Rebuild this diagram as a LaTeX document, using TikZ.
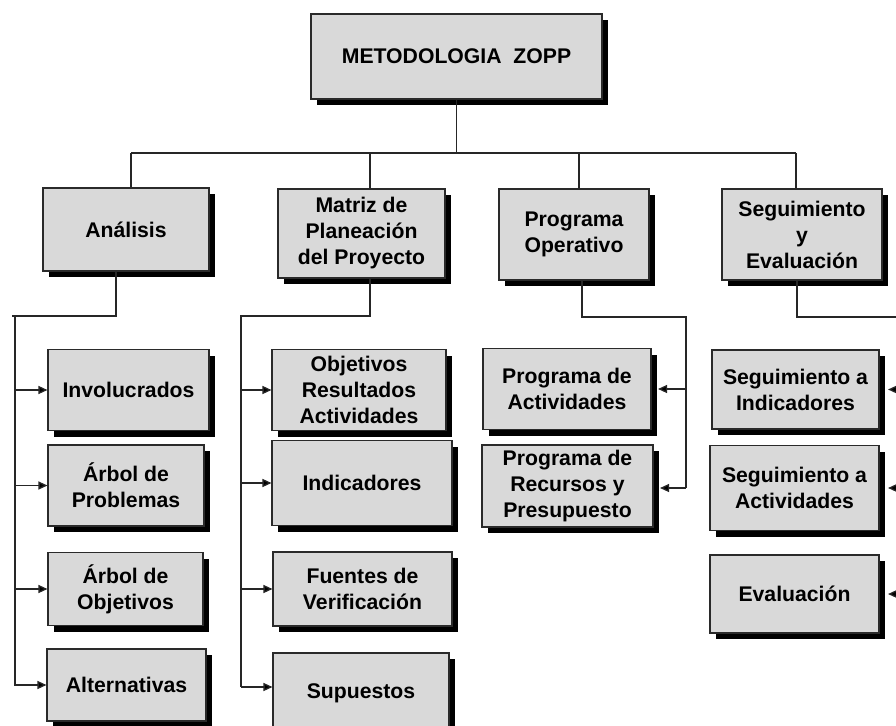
\documentclass[tikz,border=0pt]{standalone}
\usepackage{fontspec}
\setmainfont{Liberation Sans}
\usetikzlibrary{shadows,arrows.meta}
\definecolor{boxfill}{HTML}{D9D9D9}
\definecolor{boxline}{HTML}{2A2A2A}
\tikzset{
  zbox/.style args={#1x#2}{draw=boxline, line width=1.1pt, fill=boxfill,
    minimum width=#1pt, minimum height=#2pt, inner sep=0pt, align=center,
    font=\fontsize{21.2}{26}\selectfont\bfseries,
    drop shadow={shadow xshift=6pt, shadow yshift=-6pt, fill=black, opacity=1}},
  conn/.style={line width=1.3pt, draw=black!85},
  arr/.style={conn, -{Triangle[length=9pt,width=8pt,fill=black]}}
}
\begin{document}
\begin{tikzpicture}[x=1pt,y=-1pt]
\useasboundingbox (0,0) rectangle (896,725);
\clip (0,0) rectangle (896,725);
% top
\node[zbox=291x85] (top) at (456.5,56.5) {METODOLOGIA\ \ ZOPP};
% level 1
\node[zbox=166x83] (ana) at (126,229.5) {Análisis};
\node[zbox=167x89] (mat) at (361.5,233.5) {Matriz de\\Planeación\\del Proyecto};
\node[zbox=150x91] (pop) at (574,234.5) {Programa\\Operativo};
\node[zbox=160x91] (sye) at (802,234.5) {Seguimiento\\y\\Evaluación};
% analisis children
\node[zbox=161x81] (inv) at (128.5,390) {Involucrados};
\node[zbox=156x81] (arbp) at (126,485.5) {Árbol de\\Problemas};
\node[zbox=155x73] (arbo) at (125.5,589) {Árbol de\\Objetivos};
\node[zbox=159x72] (alt) at (126.5,685) {Alternativas};
% matriz children
\node[zbox=174x81] (obj) at (359,390) {Objetivos\\Resultados\\Actividades};
\node[zbox=180x85] (ind) at (362,483) {Indicadores};
\node[zbox=179x74] (fue) at (362.5,589) {Fuentes de\\Verificación};
\node[zbox=176x80] (sup) at (361,693) {Supuestos};
% programa children
\node[zbox=168x81] (pa) at (567,389) {Programa de\\Actividades};
\node[zbox=171x82] (pr) at (567.5,486) {Programa de\\Recursos y\\Presupuesto};
% seguimiento children
\node[zbox=167x79] (si) at (795.5,389.5) {Seguimiento a\\Indicadores};
\node[zbox=169x85] (sa) at (794.5,488) {Seguimiento a\\Actividades};
\node[zbox=169x78] (ev) at (794.5,594) {Evaluación};
% bus
\coordinate (b1) at (131,153);
\coordinate (b2) at (370,153);
\coordinate (b3) at (579,153);
\coordinate (b4) at (796,153);
\draw[conn] (top.south) -- (top.south |- b1);
\draw[conn] (b1) -- (b4);
\draw[conn] (b1) -- (b1 |- ana.north);
\draw[conn] (b2) -- (b2 |- mat.north);
\draw[conn] (b3) -- (b3 |- pop.north);
\draw[conn] (b4) -- (b4 |- sye.north);
% analisis branch
\coordinate (a0) at (116,316);
\coordinate (a1) at (15,316);
\coordinate (a2) at (15,686);
\draw[conn] (a0 |- ana.south) -- (a0) -- (12,316);
\draw[conn] (a1) -- (a2);
\draw[arr] (inv.west -| a1) -- (inv.west);
\draw[arr] (arbp.west -| a1) -- (arbp.west);
\draw[arr] (arbo.west -| a1) -- (arbo.west);
\draw[arr] (alt.west -| a1) -- (alt.west);
% matriz branch
\coordinate (m0) at (370,316);
\coordinate (m1) at (241,316);
\coordinate (m2) at (241,687);
\draw[conn] (m0 |- mat.south) -- (m0) -- (m1) -- (m2);
\draw[arr] (obj.west -| m1) -- (obj.west);
\draw[arr] (ind.west -| m1) -- (ind.west);
\draw[arr] (fue.west -| m1) -- (fue.west);
\draw[arr] (m2) -- (sup.west |- m2);
% programa branch
\coordinate (p0) at (582,317);
\coordinate (p1) at (686,317);
\coordinate (p2) at (686,488);
\draw[conn] (p0 |- pop.south) -- (p0) -- (p1) -- (p2);
\draw[arr] (pa.east -| p1) -- ([xshift=6.5pt]pa.east);
\draw[arr] (p2) -- ([xshift=6.5pt]pr.east |- p2);
% seguimiento branch
\coordinate (s0) at (797,317);
\coordinate (s1) at (912,317);
\coordinate (s2) at (912,594);
\draw[conn] (s0 |- sye.south) -- (s0) -- (s1) -- (s2);
\draw[arr] (si.east -| s1) -- ([xshift=8.5pt]si.east);
\draw[arr] (sa.east -| s1) -- ([xshift=8.5pt]sa.east);
\draw[arr] (ev.east -| s1) -- ([xshift=8.5pt]ev.east);
\end{tikzpicture}
\end{document}
